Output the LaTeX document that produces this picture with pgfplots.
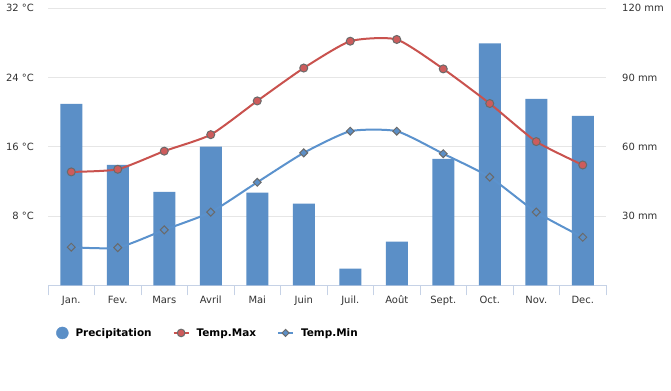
\documentclass[border=0pt]{standalone}
\usepackage{pgfplots}
\pgfplotsset{compat=1.18}
\usepackage{fontspec}
\setmainfont{DejaVu Sans}
\definecolor{barblue}{HTML}{5B8FC7}
\definecolor{redline}{HTML}{C9524E}
\definecolor{redmark}{HTML}{CD5C5C}
\definecolor{blueline}{HTML}{5B92CD}
\definecolor{markgray}{HTML}{6A6A6A}
\definecolor{axisc}{HTML}{C6D2E6}
\definecolor{gridc}{HTML}{E6E6E6}
\definecolor{labelc}{HTML}{333333}
\pgfplotsset{
  common/.style={scale only axis, width=558bp, height=277bp,
    xmin=-0.5, xmax=11.5, ymin=0,
    at={(48bp,105.7bp)}, anchor=south west,
    /pgf/number format/assume math mode=true,
    tick label style={font=\fontsize{10}{12}\selectfont, text=labelc}},
}
\begin{document}
\begin{tikzpicture}
\path[use as bounding box, fill=white] (0,0) rectangle (671bp,391bp);
\begin{axis}[common, ymax=120,
  axis x line*=bottom, axis y line*=right,
  x axis line style={draw=axisc, line width=1bp, -},
  y axis line style={draw=none},
  ytick={30,60,90,120}, yticklabel={\pgfmathprintnumber{\tick} mm},
  ymajorgrids, major grid style={draw=gridc, line width=1bp},
  xtick={0,...,11},
  xticklabels={Jan.,Fev.,Mars,Avril,Mai,Juin,Juil.,Août,Sept.,Oct.,Nov.,Dec.},
  minor xtick={-0.5,0.5,...,11.5},
  major tick length=0pt, minor tick length=10bp, tick align=outside,
  minor tick style={draw=axisc, line width=1bp},
  yticklabel style={anchor=west, inner sep=0pt, xshift=16bp},
  xticklabel style={yshift=-7bp},
]
\addplot[ybar, bar width=22bp, fill=barblue, draw=none] coordinates {
(0,78.6) (1,52.2) (2,40.5) (3,60.1) (4,40.2) (5,35.4)
(6,7.2) (7,18.9) (8,54.8) (9,104.8) (10,80.8) (11,73.4)};
\end{axis}
\begin{axis}[common, ymax=32,
  axis x line=none, axis y line*=left,
  y axis line style={draw=none},
  ytick={8,16,24,32}, yticklabel={\pgfmathprintnumber{\tick}~°C},
  major tick length=0pt,
  yticklabel style={anchor=east, inner sep=0pt, xshift=-14bp},
  legend columns=3,
  legend style={at={(0.0143,-0.172)}, anchor=west, draw=none, fill=none,
    inner sep=0pt, font=\bfseries\fontsize{10.5}{12}\selectfont,
    /tikz/every odd column/.append style={column sep=7bp},
    /tikz/every even column/.append style={column sep=21bp},
    nodes={inner sep=0pt, anchor=west}},
]
\addlegendimage{legend image code/.code={\fill[barblue] (6bp,0bp) circle (6bp);}}
\addlegendentry{Precipitation}
\addlegendimage{legend image code/.code={\draw[redline, line width=2bp] (0bp,0bp) -- (15bp,0bp);
  \filldraw[fill=redmark, draw=markgray, line width=1bp] (7.5bp,0bp) circle (3.8bp);}}
\addlegendentry{Temp.Max}
\addlegendimage{legend image code/.code={\draw[blueline, line width=2bp] (0bp,0bp) -- (15bp,0bp);
  \filldraw[fill=barblue, draw=markgray, line width=1bp] (7.5bp,3.5bp) -- (11bp,0bp) -- (7.5bp,-3.5bp) -- (4bp,0bp) -- cycle;}}
\addlegendentry{Temp.Min}
\addplot[forget plot, smooth, tension=0.35, color=redline, line width=2bp, mark=*, mark size=4bp,
  mark options={fill=redmark, draw=markgray, line width=1bp}] coordinates {
(0,13.1) (1,13.4) (2,15.5) (3,17.4) (4,21.3) (5,25.1)
(6,28.2) (7,28.4) (8,25.0) (9,21.0) (10,16.6) (11,13.9)};
\addplot[forget plot, smooth, tension=0.35, color=blueline, line width=2bp, mark=square*, mark size=2.8bp,
  mark options={fill=barblue, draw=markgray, line width=1bp, rotate=45}] coordinates {
(0,4.4) (1,4.35) (2,6.4) (3,8.45) (4,11.9) (5,15.3)
(6,17.8) (7,17.8) (8,15.2) (9,12.5) (10,8.45) (11,5.55)};
\end{axis}
\end{tikzpicture}
\end{document}
